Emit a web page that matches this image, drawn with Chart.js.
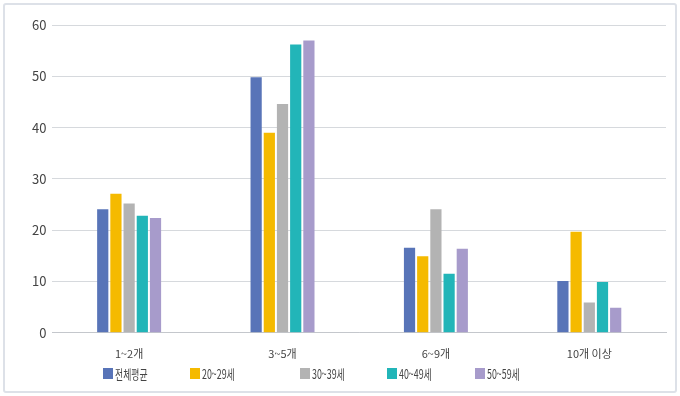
<!DOCTYPE html>
<html lang="ko">
<head>
<meta charset="utf-8">
<script src="https://cdn.jsdelivr.net/npm/chart.js@4.4.1/dist/chart.umd.min.js"></script>
<style>
    html, body { margin: 0; padding: 0; background: #fff; }
    #wrap {
        position: relative;
        width: 680px;
        height: 396px;
        overflow: hidden;
    }
    #frame {
        position: absolute;
        left: 3px; top: 3px; width: 670px; height: 386px;
        border: 2px solid #dde1e8;
        border-radius: 3px;
    }
    #chart { position: absolute; left: 0; top: 0; }
    #legend {
        position: absolute;
        top: 364px;
        left: 0;
        font-family: "Noto Sans CJK KR", "Noto Sans", sans-serif;
        font-size: 13px;
        color: #444;
    }
    .item { position: absolute; top: 0; display: flex; align-items: center; white-space: nowrap; }
    .box { width: 10px; height: 11px; margin-right: 2px; }
    .txt { display: inline-block; transform: scaleX(0.68); transform-origin: left center; }
</style>
</head>
<body>
<div id="wrap">
    <div id="frame"></div>
    <canvas id="chart" width="680" height="396"></canvas>
    <div id="legend"></div>
</div>
<script>
const categories = ['1~2개', '3~5개', '6~9개', '10개 이상'];
const seriesNames = ['전체평균', '20~29세', '30~39세', '40~49세', '50~59세'];
const seriesColors = ['#5874b8', '#f5ba00', '#b3b3b3', '#22b5b8', '#a79bcb'];

// values per series across categories
const avgAll = [24.1, 49.8, 16.6, 10.1];
const age20s = [27.1, 39.0, 14.9, 19.7];
const age30s = [25.2, 44.6, 24.1, 5.9];
const age40s = [22.8, 56.2, 11.5, 9.9];
const age50s = [22.4, 57.0, 16.4, 4.9];
const yTicks = [0, 10, 20, 30, 40, 50, 60];

const seriesValues = [avgAll, age20s, age30s, age40s, age50s];
const fontFamily = '"Noto Sans CJK KR", "Noto Sans", sans-serif';

const datasets = seriesNames.map((name, i) => ({
    label: name,
    data: seriesValues[i],
    backgroundColor: seriesColors[i],
    borderWidth: 0,
    categoryPercentage: 0.43,
    barPercentage: 0.85
}));

new Chart(document.getElementById('chart'), {
    type: 'bar',
    data: { labels: categories, datasets: datasets },
    options: {
        responsive: false,
        animation: false,
        layout: { padding: { left: 26, right: 14, top: 25, bottom: 22 } },
        plugins: { legend: { display: false }, tooltip: { enabled: false } },
        scales: {
            x: {
                grid: { display: false, drawTicks: false },
                border: { color: '#c4c7cc', width: 1 },
                ticks: { color: '#444', font: { family: fontFamily, size: 11 }, padding: 14 }
            },
            y: {
                min: 0,
                max: 60,
                afterBuildTicks: axis => { axis.ticks = yTicks.map(v => ({ value: v })); },
                grid: { color: '#d6d9dd', drawTicks: false },
                border: { display: false },
                ticks: { color: '#444', font: { family: fontFamily, size: 13 }, padding: 6 }
            }
        }
    }
});

// legend
const legendLeft = [103, 190, 300, 387, 475];
const legend = document.getElementById('legend');
seriesNames.forEach((name, i) => {
    const item = document.createElement('div');
    item.className = 'item';
    item.style.left = legendLeft[i] + 'px';
    item.innerHTML = `<span class="box" style="background:${seriesColors[i]}"></span><span class="txt">${name}</span>`;
    legend.appendChild(item);
});
</script>
</body>
</html>
